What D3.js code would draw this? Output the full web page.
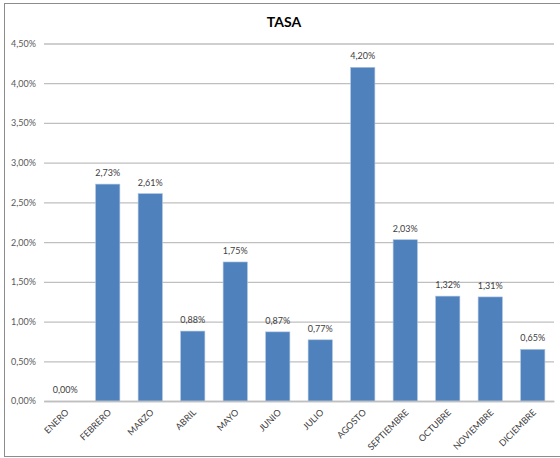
<!DOCTYPE html>
<html>
<head>
<meta charset="utf-8">
<script src="https://cdn.jsdelivr.net/npm/d3@7"></script>
<style>
  body { margin: 0; background: #fff; }
  text { font-family: Lato, "Open Sans", sans-serif; }
</style>
</head>
<body>
<div id="chart"></div>
<script>
// chart data
let months = ["ENERO", "FEBRERO", "MARZO", "ABRIL", "MAYO", "JUNIO", "JULIO",
              "AGOSTO", "SEPTIEMBRE", "OCTUBRE", "NOVIEMBRE", "DICIEMBRE"];
let tasa = [0.00, 2.73, 2.61, 0.88, 1.75, 0.87, 0.77, 4.20, 2.03, 1.32, 1.31, 0.65];
let yTicks = [0, 0.5, 1, 1.5, 2, 2.5, 3, 3.5, 4, 4.5];

let width = 560, height = 458;
let margin = {top: 43.5, right: 6, bottom: 57, left: 44};

let svg = d3.select("#chart")
    .append("svg")
    .attr("width", width)
    .attr("height", height);

// outer frame
svg.append("rect")
    .attr("x", 4.5).attr("y", 3.5)
    .attr("width", 560).attr("height", 453)
    .attr("fill", "none")
    .attr("stroke", "#8c8c8c")
    .attr("stroke-width", 1);

let x = d3.scaleBand()
    .domain(months)
    .range([margin.left, width - margin.right])
    .paddingInner(0.43)
    .paddingOuter(0.215);

let y = d3.scaleLinear()
    .domain([0, 4.5])
    .range([height - margin.bottom, margin.top]);

let fmt = v => d3.format(".2f")(v).replace(".", ",") + "%";

// grid + y labels
let yAxis = d3.axisLeft(y)
    .tickValues(yTicks)
    .tickSize(-(width - margin.right - margin.left))
    .tickPadding(8)
    .tickFormat(fmt);

let gy = svg.append("g")
    .attr("transform", `translate(${margin.left}, 0)`)
    .call(yAxis);
gy.select(".domain").remove();
gy.selectAll(".tick line").attr("stroke", "#bfbfbf").attr("stroke-width", 1.3);
gy.selectAll(".tick text")
    .attr("fill", "#595959")
    .style("font-size", "9px");

// bars
svg.selectAll(".bar")
    .data(tasa)
    .enter()
    .append("rect")
    .attr("class", "bar")
    .attr("x", (d, i) => x(months[i]))
    .attr("y", d => y(d))
    .attr("width", x.bandwidth())
    .attr("height", d => y(0) - y(d))
    .attr("fill", "#4f81bd")
    .attr("stroke", "#a9c2e2")
    .attr("stroke-width", 0.6);

// data labels
svg.selectAll(".lbl")
    .data(tasa)
    .enter()
    .append("text")
    .attr("class", "lbl")
    .attr("x", (d, i) => x(months[i]) + x.bandwidth() / 2)
    .attr("y", d => y(d) - 8)
    .attr("text-anchor", "middle")
    .attr("fill", "#404040")
    .style("font-size", "9px")
    .text(d => fmt(d));

// x axis
let gx = svg.append("g")
    .attr("transform", `translate(0, ${y(0)})`)
    .call(d3.axisBottom(x).tickSize(0).tickPadding(0));
gx.select(".domain").attr("stroke", "#bfbfbf").attr("stroke-width", 1.3);
gx.selectAll(".tick text")
    .attr("fill", "#404040")
    .style("font-size", "9px")
    .attr("text-anchor", "end")
    .attr("dy", "0")
    .attr("transform", "translate(4, 12) rotate(-45)");

// title
svg.append("text")
    .attr("x", 284)
    .attr("y", 27)
    .attr("text-anchor", "middle")
    .style("font-size", "14px")
    .style("font-weight", 700)
    .attr("fill", "#000")
    .text("TASA");
</script>
</body>
</html>
